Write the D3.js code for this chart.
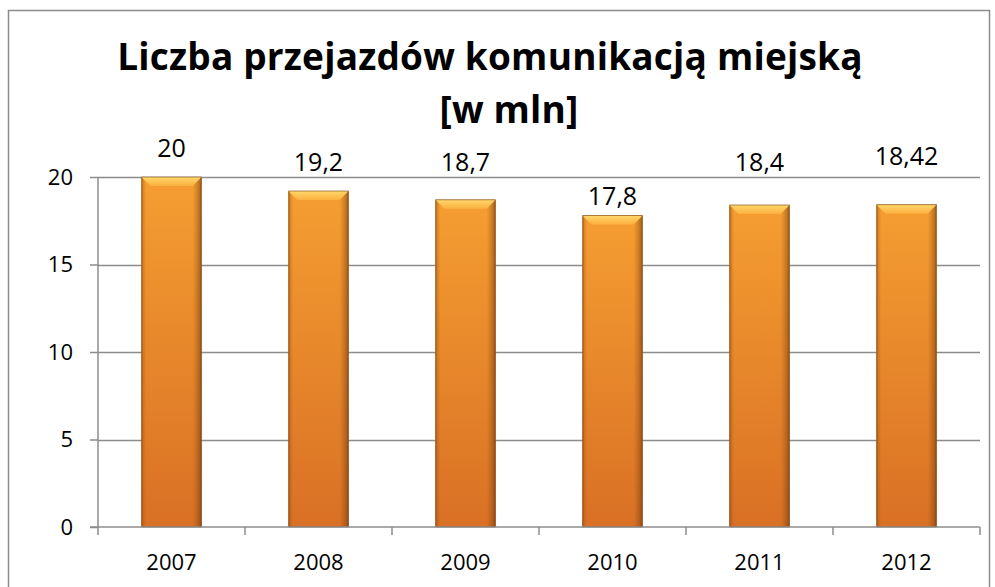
<!DOCTYPE html>
<meta charset="utf-8">
<style>
body { margin:0; background:#fff; }
.title { font: bold 37px "Open Sans", sans-serif; fill:#000; text-anchor:middle; letter-spacing:0.2px; }
.tick text { font: 22px "Open Sans", sans-serif; fill:#000; }
.lbl { font: 25px "Open Sans", sans-serif; fill:#000; text-anchor:middle; }
</style>
<svg width="995" height="587"></svg>
<script src="https://d3js.org/d3.v7.min.js"></script>
<script>
var years = ["2007", "2008", "2009", "2010", "2011", "2012"];
var values = [20, 19.2, 18.7, 17.8, 18.4, 18.42];
var valueLabels = ["20", "19,2", "18,7", "17,8", "18,4", "18,42"];
var yTicks = [0, 5, 10, 15, 20];
// label baselines as placed in the original chart
var labelY = [157, 171, 171, 205, 171, 165];

var svg = d3.select("svg");

// chart border
svg.append("rect").attr("x", 8.5).attr("y", 10.5).attr("width", 981).attr("height", 590)
    .attr("fill", "#fff").attr("stroke", "#8c8c8c").attr("stroke-width", 1.5);

svg.append("text").attr("class", "title").attr("x", 490).attr("y", 70)
    .text("Liczba przejazdów komunikacją miejską");
svg.append("text").attr("class", "title").attr("x", 509).attr("y", 123)
    .text("[w mln]");

var x = d3.scaleBand().domain(years).range([98, 980]).paddingInner(0.59).paddingOuter(0.295);
var y = d3.scaleLinear().domain([0, 20]).range([527, 177]);

var defs = svg.append("defs");
var gv = defs.append("linearGradient").attr("id", "gv").attr("x1", 0).attr("y1", 0).attr("x2", 0).attr("y2", 1);
gv.append("stop").attr("offset", "0%").attr("stop-color", "#fba233");
gv.append("stop").attr("offset", "100%").attr("stop-color", "#dd7226");
var gh = defs.append("linearGradient").attr("id", "gh").attr("x1", 0).attr("y1", 0).attr("x2", 1).attr("y2", 0);
gh.append("stop").attr("offset", "0%").attr("stop-color", "#8a4a10").attr("stop-opacity", 0.45);
gh.append("stop").attr("offset", "8%").attr("stop-color", "#8a4a10").attr("stop-opacity", 0.05);
gh.append("stop").attr("offset", "85%").attr("stop-color", "#8a4a10").attr("stop-opacity", 0.05);
gh.append("stop").attr("offset", "100%").attr("stop-color", "#5a2e08").attr("stop-opacity", 0.55);
var gt = defs.append("linearGradient").attr("id", "gt").attr("x1", 0).attr("y1", 0).attr("x2", 0).attr("y2", 1);
gt.append("stop").attr("offset", "0%").attr("stop-color", "#ffd86a");
gt.append("stop").attr("offset", "100%").attr("stop-color", "#fbb040");

// gridlines
svg.append("g").selectAll("line").data(yTicks.slice(1)).join("line")
    .attr("x1", 98).attr("x2", 980)
    .attr("y1", function(d) { return Math.round(y(d)) + 0.5; })
    .attr("y2", function(d) { return Math.round(y(d)) + 0.5; })
    .attr("stroke", "#8c8c8c").attr("stroke-width", 1.5);

// bars
var bar = svg.append("g").selectAll("g").data(values).join("g")
    .attr("transform", function(d, i) { return "translate(" + x(years[i]) + "," + y(d) + ")"; });
var bw = x.bandwidth();
bar.append("rect").attr("width", bw).attr("height", function(d) { return y(0) - y(d); })
    .attr("fill", "url(#gv)");
bar.append("rect").attr("width", bw).attr("height", function(d) { return y(0) - y(d); })
    .attr("fill", "url(#gh)");
bar.append("path").attr("d", "M0,0H" + bw + "L" + (bw - 9) + ",9H9Z").attr("fill", "url(#gt)");
bar.append("rect").attr("x", 0.5).attr("width", bw - 1).attr("height", function(d) { return y(0) - y(d); })
    .attr("fill", "none").attr("stroke", "#7a4010").attr("stroke-opacity", 0.6).attr("stroke-width", 1);

// value labels
svg.append("g").selectAll("text").data(values).join("text").attr("class", "lbl")
    .attr("x", function(d, i) { return x(years[i]) + bw / 2; })
    .attr("y", function(d, i) { return labelY[i]; })
    .text(function(d, i) { return valueLabels[i]; });

// axes
var yAxis = svg.append("g").attr("transform", "translate(98,0)")
    .call(d3.axisLeft(y).tickValues(yTicks).tickSize(8).tickPadding(17));
var xAxis = svg.append("g").attr("transform", "translate(0,527)")
    .call(d3.axisBottom(x).tickSize(0));
xAxis.selectAll(".tick text").attr("y", 43).attr("dy", 0);
xAxis.append("g").selectAll("line").data(d3.range(years.length + 1)).join("line")
    .attr("x1", function(i) { return 98 + i * (882 / years.length); })
    .attr("x2", function(i) { return 98 + i * (882 / years.length); })
    .attr("y1", 0).attr("y2", 8).attr("stroke", "#8c8c8c").attr("stroke-width", 1.5);
[yAxis, xAxis].forEach(function(a) {
  a.select(".domain").attr("stroke", "#8c8c8c").attr("stroke-width", 1.5);
  a.selectAll(".tick line").attr("stroke", "#8c8c8c").attr("stroke-width", 1.5);
});
yAxis.select(".domain").attr("d", "M0,177V527");
xAxis.select(".domain").attr("d", "M90,0H980");
</script>
